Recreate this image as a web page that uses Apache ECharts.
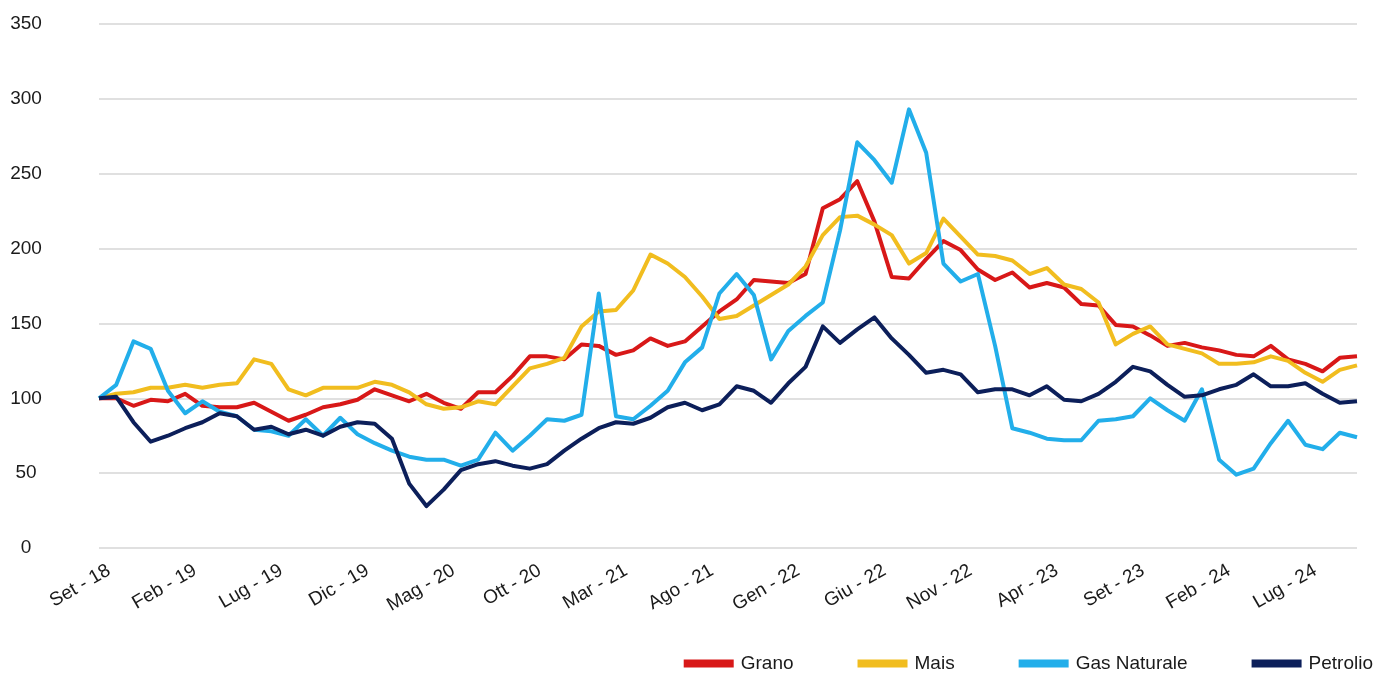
<!DOCTYPE html>
<html>
<head>
<meta charset="utf-8">
<script src="https://cdn.jsdelivr.net/npm/echarts@6/dist/echarts.min.js"></script>
<style>
html,body{margin:0;padding:0;background:#fff;}
#chart{width:1374px;height:673px;}
</style>
</head>
<body>
<div id="chart"></div>
<script>
const categories = [
  "Set - 18","Ott - 18","Nov - 18","Dic - 18",
  "Gen - 19","Feb - 19","Mar - 19","Apr - 19","Mag - 19","Giu - 19","Lug - 19","Ago - 19","Set - 19","Ott - 19","Nov - 19","Dic - 19",
  "Gen - 20","Feb - 20","Mar - 20","Apr - 20","Mag - 20","Giu - 20","Lug - 20","Ago - 20","Set - 20","Ott - 20","Nov - 20","Dic - 20",
  "Gen - 21","Feb - 21","Mar - 21","Apr - 21","Mag - 21","Giu - 21","Lug - 21","Ago - 21","Set - 21","Ott - 21","Nov - 21","Dic - 21",
  "Gen - 22","Feb - 22","Mar - 22","Apr - 22","Mag - 22","Giu - 22","Lug - 22","Ago - 22","Set - 22","Ott - 22","Nov - 22","Dic - 22",
  "Gen - 23","Feb - 23","Mar - 23","Apr - 23","Mag - 23","Giu - 23","Lug - 23","Ago - 23","Set - 23","Ott - 23","Nov - 23","Dic - 23",
  "Gen - 24","Feb - 24","Mar - 24","Apr - 24","Mag - 24","Giu - 24","Lug - 24","Ago - 24","Set - 24","Ott - 24"
];

const grano = [
  100,100,95,99,98,103,95,94,94,97,91,85,89,94,96,99,106,102,98,103,97,93,104,104,115,128,128,126,136,135,
  129,132,140,135,138,148,158,166,179,178,177,183,227,233,245,218,181,180,193,205,199,186,179,184,174,177,174,163,162,149,
  148,142,135,137,134,132,129,128,135,126,123,118,127,128
];

const mais = [
  100,103,104,107,107,109,107,109,110,126,123,106,102,107,107,107,111,109,104,96,93,94,98,96,108,120,123,127,148,158,
  159,172,196,190,181,168,153,155,162,169,176,188,209,221,222,216,209,190,197,220,208,196,195,192,183,187,176,173,164,136,
  143,148,136,133,130,123,123,124,128,125,117,111,119,122
];

const gasNaturale = [
  100,109,138,133,105,90,98,91,88,79,78,75,86,75,87,76,70,65,61,59,59,55,59,77,65,75,86,85,89,170,
  88,86,95,105,124,134,170,183,169,126,145,155,164,212,271,259,244,293,264,190,178,183,135,80,77,73,72,72,85,86,
  88,100,92,85,106,59,49,53,70,85,69,66,77,74
];

const petrolio = [
  100,101,84,71,75,80,84,90,88,79,81,76,79,75,81,84,83,73,43,28,39,52,56,58,55,53,56,65,73,80,
  84,83,87,94,97,92,96,108,105,97,110,121,148,137,146,154,140,129,117,119,116,104,106,106,102,108,99,98,103,111,
  121,118,109,101,102,106,109,116,108,108,110,103,97,98
];

const yTicks = { min: 0, max: 350, interval: 50 };

const FONT = "'Liberation Sans', Arial, Helvetica, sans-serif";
const chart = echarts.init(document.getElementById('chart'), null, { renderer: 'canvas' });

function lineSeries(name, data, color) {
  return {
    name: name,
    type: 'line',
    data: data,
    showSymbol: false,
    symbol: 'none',
    smooth: false,
    lineStyle: { color: color, width: 4, join: 'round' },
    itemStyle: { color: color },
    emphasis: { disabled: true },
    animation: false
  };
}

chart.setOption({
  animation: false,
  backgroundColor: '#ffffff',
  textStyle: { fontFamily: FONT },
  grid: { left: 99, right: 17, top: 24, bottom: 125, containLabel: false },
  legend: {
    right: -4,
    top: 649,
    itemWidth: 50,
    itemHeight: 8,
    itemGap: 64,
    icon: 'rect',
    textStyle: { fontSize: 19, color: '#1a1a1a', fontFamily: FONT, padding: [0, 0, 0, 2] },
    data: ['Grano', 'Mais', 'Gas Naturale', 'Petrolio']
  },
  xAxis: {
    type: 'category',
    data: categories,
    boundaryGap: false,
    axisLine: { show: false },
    axisTick: { show: false },
    splitLine: { show: false },
    axisLabel: {
      interval: 4,
      rotate: 30,
      margin: 16,
      verticalAlign: 'top',
      padding: [0, -6, 0, 0],
      fontSize: 19,
      color: '#1a1a1a',
      fontFamily: FONT
    }
  },
  yAxis: {
    type: 'value',
    min: yTicks.min,
    max: yTicks.max,
    interval: yTicks.interval,
    axisLine: { show: false },
    axisTick: { show: false },
    splitLine: { lineStyle: { color: '#e0e0e0', width: 2 } },
    axisLabel: {
      fontSize: 19,
      color: '#1a1a1a',
      align: 'center',
      margin: 73,
      fontFamily: FONT
    }
  },
  series: [
    lineSeries('Grano', grano, '#d81818'),
    lineSeries('Mais', mais, '#f1bd1f'),
    lineSeries('Gas Naturale', gasNaturale, '#22aeea'),
    lineSeries('Petrolio', petrolio, '#0c1f5a')
  ]
});
</script>
</body>
</html>
